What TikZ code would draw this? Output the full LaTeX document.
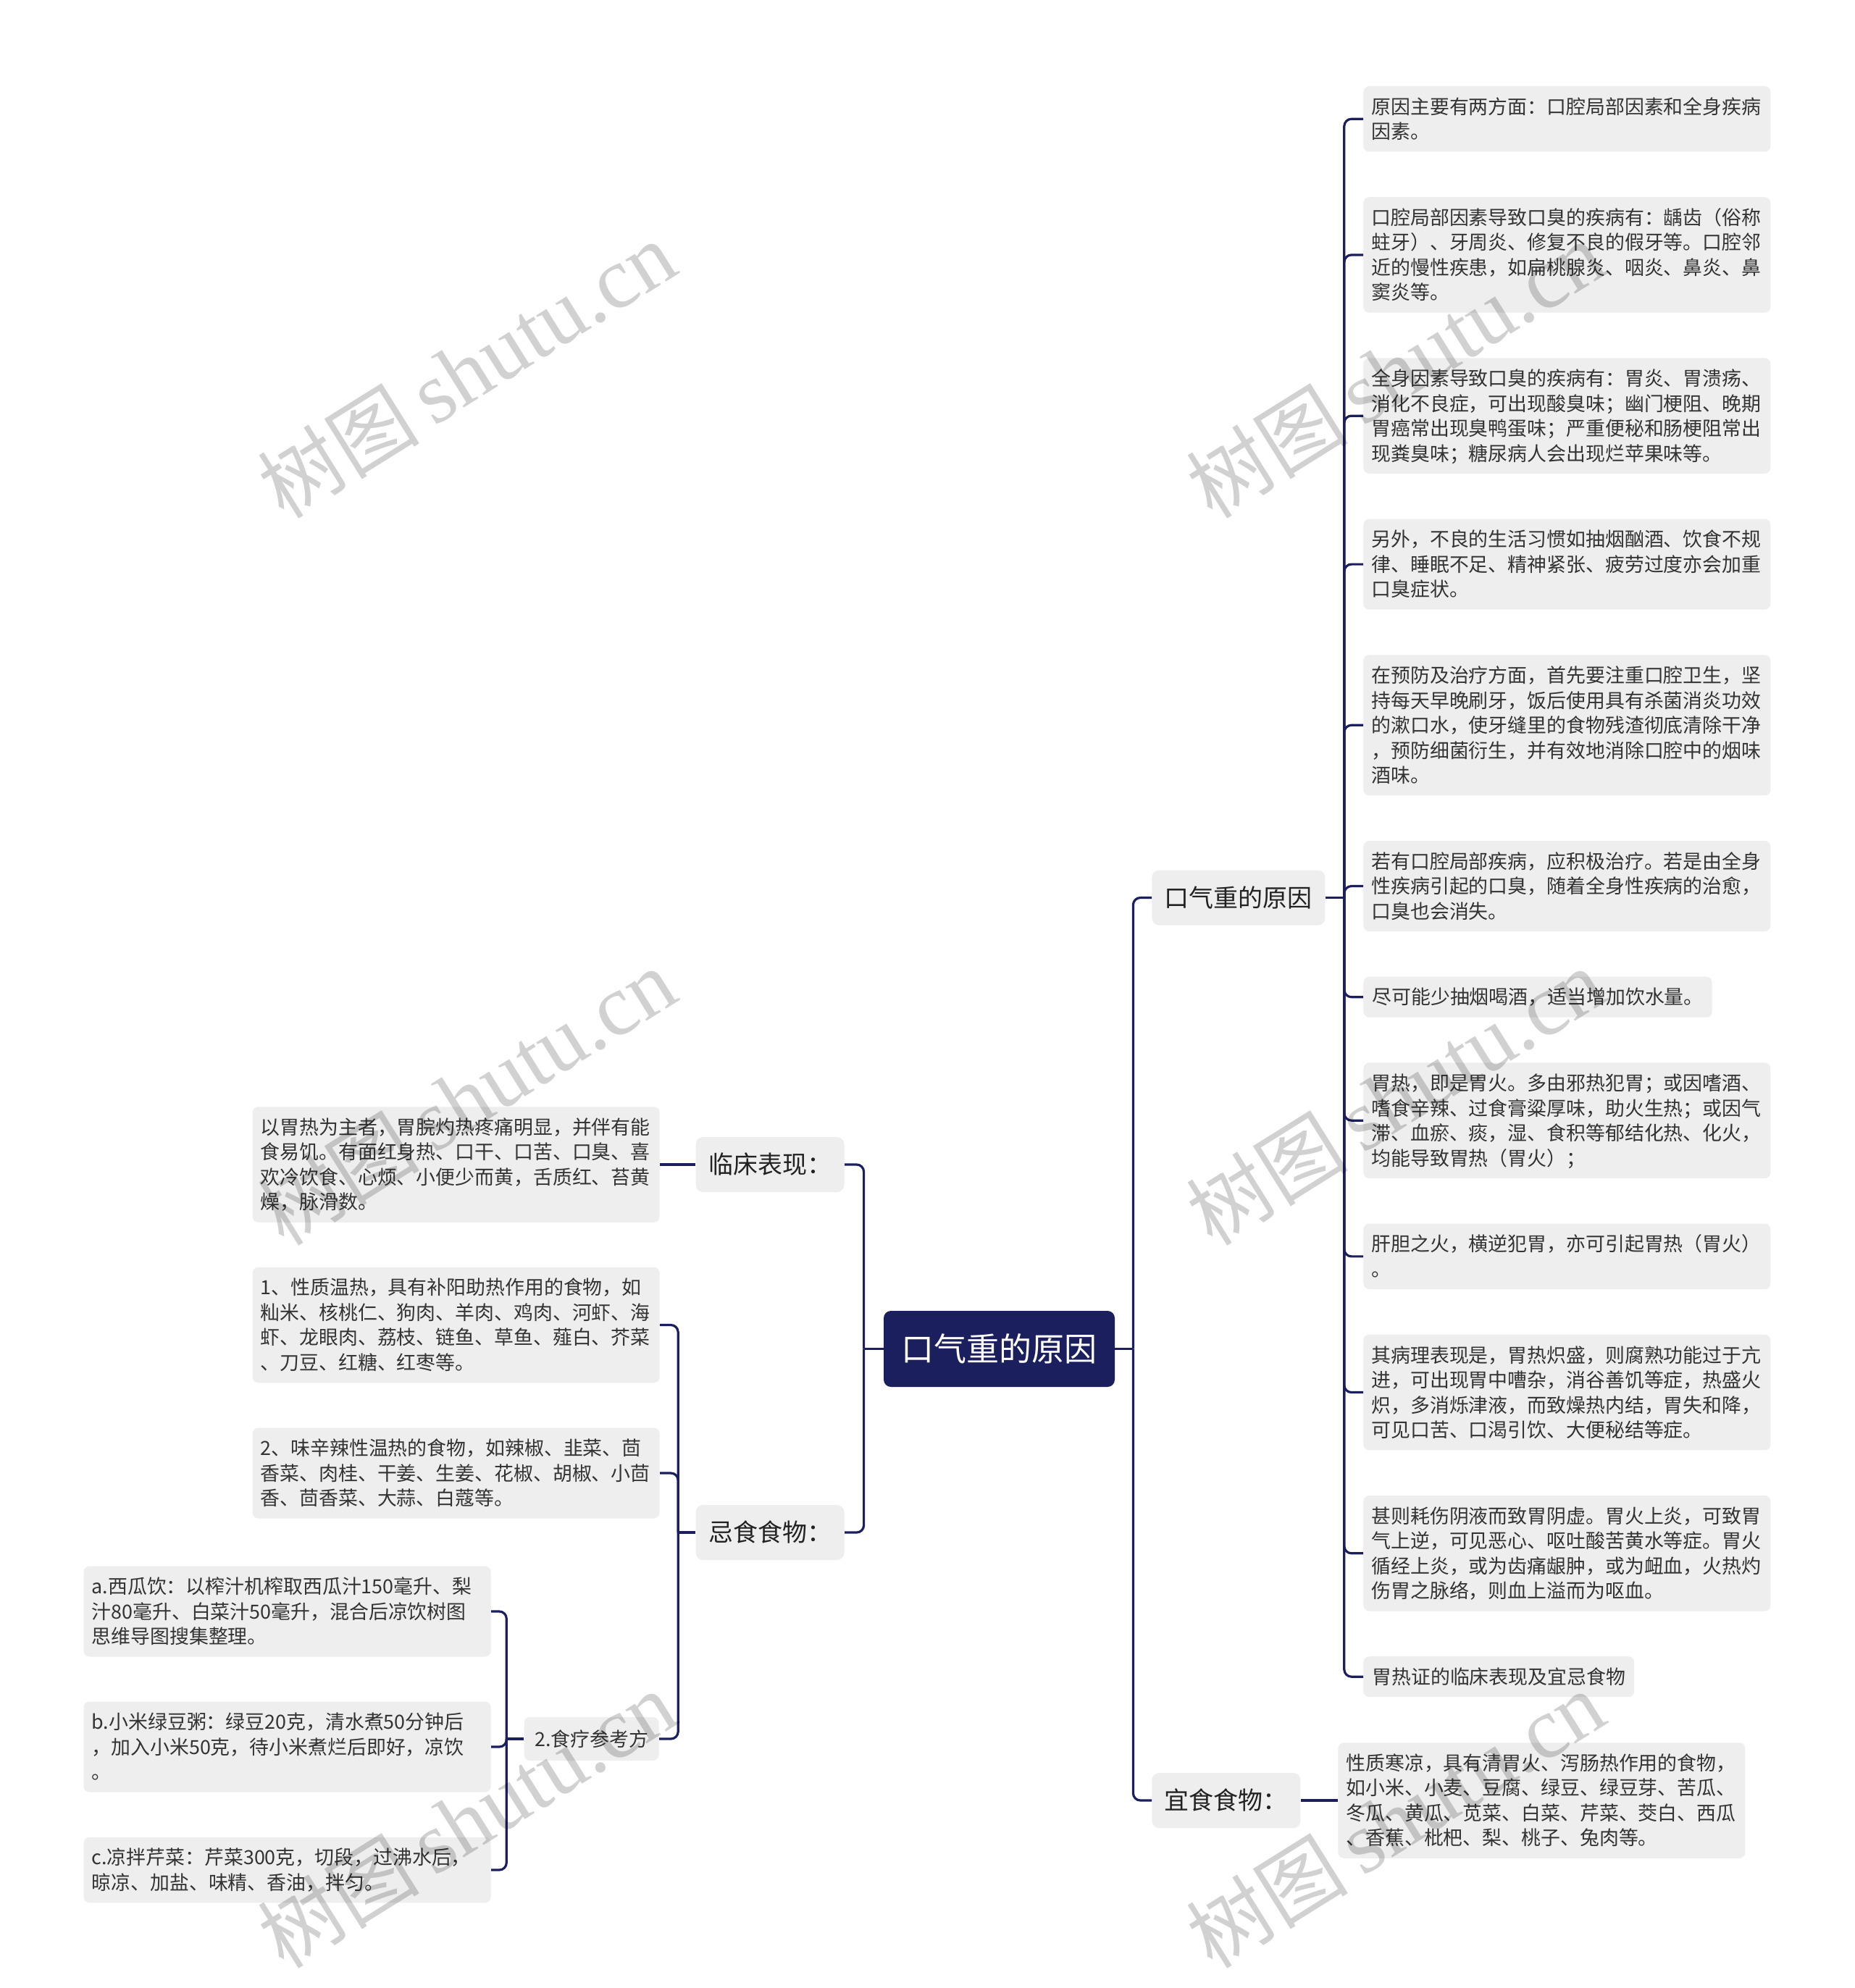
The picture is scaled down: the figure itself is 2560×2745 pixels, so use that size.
\documentclass[tikz,border=0pt]{standalone}
\usepackage{fontspec}
\setmainfont{Noto Sans CJK SC}
\newfontfamily\wmlatin{Liberation Serif}
\newfontfamily\wmcjk{Noto Sans CJK SC}
\definecolor{navy}{HTML}{1B1F5E}
\definecolor{boxgray}{HTML}{EEEEEE}
\definecolor{txt}{HTML}{333333}
\definecolor{txtdark}{HTML}{222222}
\newcommand\zs{\rule[-3.525pt]{0pt}{17.25pt}}
\newcommand\wm{{\wmcjk\fontsize{56}{66}\selectfont 树图}\,{\wmlatin shutu.cn}}
\tikzset{
  x=0.5pt, y=-0.5pt,
  link/.style={draw=navy, line width=1.6pt, rounded corners=5pt},
  rootbox/.style={fill=navy, rounded corners=5pt, text=white,
    font=\fontsize{22.5}{27}\selectfont, minimum width=159.5pt,
    minimum height=52.5pt, text height=18.1pt, text depth=1pt, inner sep=0pt},
  topicbox/.style={fill=boxgray, rounded corners=5pt, text=txtdark,
    font=\fontsize{17}{20}\selectfont, inner xsep=8.75pt, inner ysep=0pt,
    minimum height=38pt, text height=13.9pt, text depth=1pt},
  leafbox/.style={fill=boxgray, rounded corners=4pt, text=txt,
    font=\fontsize{13.45}{17.25}\selectfont, inner xsep=5.5pt, inner ysep=5.375pt,
    align=left, text width=270pt,
    execute at begin node=\zs, execute at end node=\zs},
  shortleaf/.style={fill=boxgray, rounded corners=4pt, text=txt,
    font=\fontsize{13.45}{17.25}\selectfont, inner xsep=6pt, inner ysep=5.375pt,
    text height=13.725pt, text depth=3.525pt},
  subbox/.style={shortleaf, inner xsep=7.25pt, inner ysep=0pt, minimum height=30pt},
  watermark/.style={text=black, opacity=0.18, rotate=32, font=\fontsize{60}{70}\selectfont}
}
\begin{document}
\begin{tikzpicture}
\useasboundingbox[fill=white] (0,0) rectangle (2560,2745);

% root
\node[rootbox] (r) at (1379.5,1862.5) {口气重的原因};

% first-level topics
\node[topicbox, anchor=west] (t1) at (1590,1239.5) {口气重的原因};
\node[topicbox, anchor=west] (t2) at (1590,2486) {宜食食物：};
\node[topicbox, anchor=east] (t3) at (1166,1608) {临床表现：};
\node[topicbox, anchor=east] (t4) at (1166,2116) {忌食食物：};

% right leaves
\node[leafbox, anchor=west] (l1) at (1882,164.25) {原因主要有两方面：口腔局部因素和全身疾病\\因素。};
\node[leafbox, anchor=west] (l2) at (1882,351.95) {口腔局部因素导致口臭的疾病有：龋齿（俗称\\蛀牙）、牙周炎、修复不良的假牙等。口腔邻\\近的慢性疾患，如扁桃腺炎、咽炎、鼻炎、鼻\\窦炎等。};
\node[leafbox, anchor=west] (l3) at (1882,574.15) {全身因素导致口臭的疾病有：胃炎、胃溃疡、\\消化不良症，可出现酸臭味；幽门梗阻、晚期\\胃癌常出现臭鸭蛋味；严重便秘和肠梗阻常出\\现粪臭味；糖尿病人会出现烂苹果味等。};
\node[leafbox, anchor=west] (l4) at (1882,779.1) {另外，不良的生活习惯如抽烟酗酒、饮食不规\\律、睡眠不足、精神紧张、疲劳过度亦会加重\\口臭症状。};
\node[leafbox, anchor=west] (l5) at (1882,1001.3) {在预防及治疗方面，首先要注重口腔卫生，坚\\持每天早晚刷牙，饭后使用具有杀菌消炎功效\\的漱口水，使牙缝里的食物残渣彻底清除干净\\，预防细菌衍生，并有效地消除口腔中的烟味\\酒味。};
\node[leafbox, anchor=west] (l6) at (1882,1223.5) {若有口腔局部疾病，应积极治疗。若是由全身\\性疾病引起的口臭，随着全身性疾病的治愈，\\口臭也会消失。};
\node[shortleaf, anchor=west] (l7) at (1882,1376.7) {尽可能少抽烟喝酒，适当增加饮水量。};
\node[leafbox, anchor=west] (l8) at (1882,1547.15) {胃热，即是胃火。多由邪热犯胃；或因嗜酒、\\嗜食辛辣、过食膏粱厚味，助火生热；或因气\\滞、血瘀、痰，湿、食积等郁结化热、化火，\\均能导致胃热（胃火）；};
\node[leafbox, anchor=west] (l9) at (1882,1734.85) {肝胆之火，横逆犯胃，亦可引起胃热（胃火）\\。};
\node[leafbox, anchor=west] (l10) at (1882,1922.55) {其病理表现是，胃热炽盛，则腐熟功能过于亢\\进，可出现胃中嘈杂，消谷善饥等症，热盛火\\炽，多消烁津液，而致燥热内结，胃失和降，\\可见口苦、口渴引饮、大便秘结等症。};
\node[leafbox, anchor=west] (l11) at (1882,2144.75) {甚则耗伤阴液而致胃阴虚。胃火上炎，可致胃\\气上逆，可见恶心、呕吐酸苦黄水等症。胃火\\循经上炎，或为齿痛龈肿，或为衄血，火热灼\\伤胃之脉络，则血上溢而为呕血。};
\node[shortleaf, anchor=west] (l12) at (1882,2315.2) {胃热证的临床表现及宜忌食物};

\node[leafbox, anchor=west] (y1) at (1847,2486) {性质寒凉，具有清胃火、泻肠热作用的食物，\\如小米、小麦、豆腐、绿豆、绿豆芽、苦瓜、\\冬瓜、黄瓜、苋菜、白菜、芹菜、茭白、西瓜\\、香蕉、枇杷、梨、桃子、兔肉等。};

% left leaves
\node[leafbox, anchor=east] (c1) at (911,1608) {以胃热为主者，胃脘灼热疼痛明显，并伴有能\\食易饥。有面红身热、口干、口苦、口臭、喜\\欢冷饮食、心烦、小便少而黄，舌质红、苔黄\\燥，脉滑数。};
\node[leafbox, anchor=east] (k1) at (911,1829.5) {1、性质温热，具有补阳助热作用的食物，如\\籼米、核桃仁、狗肉、羊肉、鸡肉、河虾、海\\虾、龙眼肉、荔枝、链鱼、草鱼、薤白、芥菜\\、刀豆、红糖、红枣等。};
\node[leafbox, anchor=east] (k2) at (911,2034) {2、味辛辣性温热的食物，如辣椒、韭菜、茴\\香菜、肉桂、干姜、生姜、花椒、胡椒、小茴\\香、茴香菜、大蒜、白蔻等。};
\node[subbox, anchor=east] (s1) at (910,2401) {2.食疗参考方};
\node[leafbox, anchor=east] (sa) at (678,2225) {a.西瓜饮：以榨汁机榨取西瓜汁150毫升、梨\\汁80毫升、白菜汁50毫升，混合后凉饮树图\\思维导图搜集整理。};
\node[leafbox, anchor=east] (sb) at (678,2412) {b.小米绿豆粥：绿豆20克，清水煮50分钟后\\，加入小米50克，待小米煮烂后即好，凉饮\\。};
\node[leafbox, anchor=east] (sc) at (678,2582) {c.凉拌芹菜：芹菜300克，切段，过沸水后，\\晾凉、加盐、味精、香油，拌匀。};

% connectors: root
\draw[link] (r.east) -- ++(25,0) coordinate (rt);
\draw[link] (rt) |- (t1.west);
\draw[link] (rt) |- (t2.west);
\draw[link] (r.west) -- ++(-27,0) coordinate (lt);
\draw[link] (lt) |- (t3.east);
\draw[link] (lt) |- (t4.east);

% t1 children
\draw[link] (t1.east) -- ++(26,0) coordinate (t1j);
\foreach \n in {l1,l2,l3,l4,l5,l6,l7,l8,l9,l10,l11,l12}
  \draw[link] (t1j) |- (\n.west);

% t2 child
\draw[link] (t2.east) -- (y1.west);

% t3 child
\draw[link] (t3.west) -- (c1.east);

% t4 children
\draw[link] (t4.west) -- ++(-24,0) coordinate (t4j);
\foreach \n in {k1,k2,s1}
  \draw[link] (t4j) |- (\n.east);

% s1 children
\draw[link] (s1.west) -- ++(-24,0) coordinate (s1j);
\foreach \n in {sa,sb,sc}
  \draw[link] (s1j) |- (\n.east);

% watermarks
\node[watermark] (w1) at (644,511) {\wm};
\node[watermark] (w2) at (1926,511) {\wm};
\node[watermark] (w3) at (644,1515) {\wm};
\node[watermark] (w4) at (1926,1515) {\wm};
\node[watermark] (w5) at (644,2513) {\wm};
\node[watermark] (w6) at (1926,2513) {\wm};
\end{tikzpicture}
\end{document}
